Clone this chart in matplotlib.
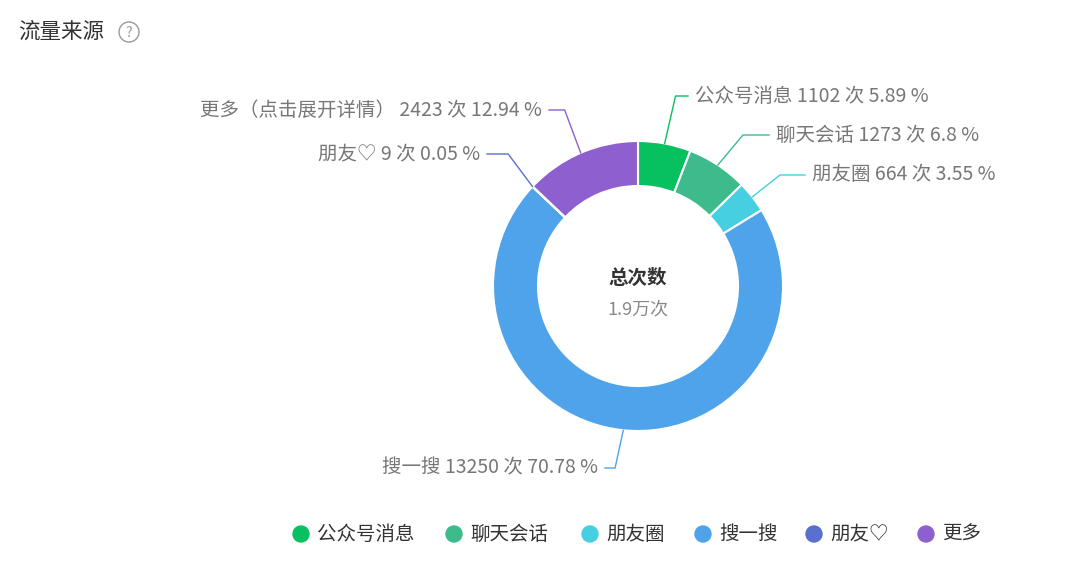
import numpy as np
import matplotlib
matplotlib.use("Agg")
import matplotlib.pyplot as plt
from matplotlib.patches import Circle

plt.rcParams['font.family'] = ['Noto Sans CJK SC', 'DejaVu Sans']

names = ['公众号消息', '聊天会话', '朋友圈', '搜一搜', '朋友♡', '更多']
label_names = ['公众号消息', '聊天会话', '朋友圈', '搜一搜', '朋友♡', '更多（点击展开详情）']
counts = [1102, 1273, 664, 13250, 9, 2423]
pcts = ['5.89', '6.8', '3.55', '70.78', '0.05', '12.94']
colors = ['#07c160', '#3dbb8c', '#45cfe0', '#4fa3ea', '#5b6fcf', '#8e5fcf']
center_title = '总次数'
center_value = '1.9万次'

label_pos = [(695, 96, 'left'), (776, 135, 'left'), (812, 175, 'left'),
             (598, 468, 'right'), (480, 154, 'right'), (542, 110, 'right')]

fig = plt.figure(figsize=(10.8, 5.67), dpi=100)
ax = fig.add_axes([0, 0, 1, 1])
ax.set_xlim(0, 1080)
ax.set_ylim(567, 0)
ax.set_aspect('equal')
ax.axis('off')

cx, cy, R, w = 638, 286, 145, 45
wedges, _ = ax.pie(counts, colors=colors, center=(cx, cy), radius=R,
                   startangle=270, counterclock=True,
                   wedgeprops=dict(width=w, edgecolor='white', linewidth=1.5))
ax.set_xlim(0, 1080)
ax.set_ylim(567, 0)

for wd, nm, c, p, col, (tx, ty, ha) in zip(wedges, label_names, counts, pcts, colors, label_pos):
    a = np.deg2rad((wd.theta1 + wd.theta2) / 2)
    x0, y0 = cx + R * np.cos(a), cy + R * np.sin(a)
    x1 = cx + (R + 14) * np.cos(a)
    ex = tx - 7 if ha == 'left' else tx + 7
    ax.plot([x0, x1 + (ex - x1) * 0.4, ex], [y0, ty, ty], color=col, lw=1)
    ax.text(tx, ty, f'{nm} {c} 次 {p} %', ha=ha, va='center', fontsize=14, color='#777777')

ax.text(cx, 278, center_title, ha='center', va='center', fontsize=14, fontweight='bold', color='#333333')
ax.text(cx, 309, center_value, ha='center', va='center', fontsize=13, color='#888888')

ax.text(18, 32, '流量来源', ha='left', va='center', fontsize=15.5, color='#333333')
ax.add_patch(Circle((129, 32), 10, fill=False, ec='#999999', lw=1))
ax.text(129, 33, '?', ha='center', va='center', fontsize=10, color='#999999')

legend_x = [301, 454, 590, 703, 814, 926]
for x, nm, col in zip(legend_x, names, colors):
    ax.add_patch(Circle((x, 534), 8, color=col))
    ax.text(x + 16, 534, nm, ha='left', va='center', fontsize=14, color='#333333')

fig.savefig('out.png', dpi=100)
